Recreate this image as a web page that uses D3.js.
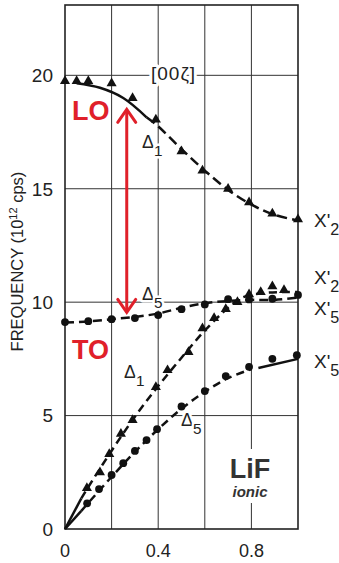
<!DOCTYPE html>
<html>
<head>
<meta charset="utf-8">
<script src="https://cdn.jsdelivr.net/npm/d3@7"></script>
<style>
  html, body { margin: 0; padding: 0; background: #fff; }
  svg { display: block; font-family: "Liberation Sans", Arial, sans-serif; }
  .halo { paint-order: stroke; stroke: #fff; stroke-linejoin: round; }
</style>
</head>
<body>
<div id="chart"></div>
<script>
// reduced wave vector along [00ζ]
const xTicks = [0, 0.4, 0.8];
const yTicks = [0, 5, 10, 15, 20];
const gridX = [0.2, 0.4, 0.6, 0.8];
const gridY = [5, 10, 15, 20];

// measured points (frequency in 10^12 cps)
const loTriangles = [[0, 19.75], [0.05, 19.75], [0.1, 19.75], [0.2, 19.65], [0.29, 19.0], [0.39, 18.05],
  [0.5, 16.65], [0.59, 15.8], [0.7, 15.0], [0.79, 14.4], [0.89, 13.9], [1.0, 13.65]];
const toCircles = [[0, 9.12], [0.1, 9.16], [0.2, 9.25], [0.3, 9.3], [0.4, 9.43], [0.5, 9.69],
  [0.6, 9.9], [0.7, 10.13], [0.79, 10.12], [0.89, 10.15], [1.0, 10.32]];
const laTriangles = [[0.094, 1.8], [0.15, 2.5], [0.19, 3.3], [0.24, 4.2], [0.29, 4.8], [0.39, 6.26],
  [0.44, 7.0], [0.53, 7.8], [0.59, 8.85], [0.64, 9.3], [0.69, 9.7], [0.74, 10.0], [0.79, 10.35],
  [0.84, 10.44], [0.89, 10.7], [0.94, 10.53]];
const lowCircles = [[0.095, 1.13], [0.146, 1.76], [0.2, 2.38], [0.25, 2.9], [0.3, 3.44], [0.35, 3.92],
  [0.395, 4.4], [0.5, 5.4], [0.6, 6.08], [0.69, 6.74], [0.79, 7.15], [0.89, 7.5], [0.995, 7.66]];

// drawn curves
const loSolid = [[0.05, 19.65], [0.15, 19.45], [0.25, 19.0], [0.35, 18.15]];
const loDashed = [[0.35, 18.15], [0.4, 17.75], [0.5, 16.75], [0.6, 15.8], [0.7, 14.95], [0.8, 14.3], [0.9, 13.85], [1.0, 13.6]];
const toDashed = [[0, 9.1], [0.1, 9.15], [0.2, 9.25], [0.3, 9.35], [0.4, 9.5], [0.5, 9.75], [0.6, 9.95], [0.7, 10.05], [0.8, 10.1], [0.9, 10.1], [1.0, 10.2]];
const laSolid = [[0, 0], [0.07, 1.35]];
const laDashed = [[0.07, 1.35], [0.1, 1.85], [0.2, 3.45], [0.3, 4.95], [0.4, 6.3], [0.5, 7.55], [0.6, 8.75], [0.7, 9.75], [0.76, 10.2], [0.85, 10.4], [0.95, 10.45], [1.0, 10.45]];
const lowSolidA = [[0, 0], [0.07, 0.8]];
const lowDashed = [[0.07, 0.8], [0.1, 1.15], [0.2, 2.3], [0.3, 3.4], [0.4, 4.4], [0.5, 5.3], [0.6, 6.05], [0.7, 6.65], [0.8, 7.05]];
const lowSolidB = [[0.83, 7.1], [1.0, 7.5]];

// LO-TO splitting arrow
const arrowX = 0.265;
const arrowFrom = 18.5;
const arrowTo = 9.55;

const width = 339, height = 563;
const m = { left: 65, right: 298, top: 5, bottom: 529 };

const x = d3.scaleLinear().domain([0, 1]).range([m.left, m.right]);
const y = d3.scaleLinear().domain([0, 23.1]).range([m.bottom, m.top]);

const svg = d3.select('#chart').append('svg')
  .attr('width', width).attr('height', height);

// grid
svg.append('g').selectAll('line').data(gridX).enter().append('line')
  .attr('x1', d => x(d)).attr('x2', d => x(d)).attr('y1', m.top).attr('y2', m.bottom)
  .attr('stroke', '#333').attr('stroke-width', 1);
svg.append('g').selectAll('line').data(gridY).enter().append('line')
  .attr('x1', m.left).attr('x2', m.right).attr('y1', d => y(d)).attr('y2', d => y(d))
  .attr('stroke', '#333').attr('stroke-width', 1);

svg.append('rect')
  .attr('x', m.left).attr('y', m.top).attr('width', m.right - m.left).attr('height', m.bottom - m.top)
  .attr('fill', 'none').attr('stroke', '#222').attr('stroke-width', 1.6);

// tick labels
svg.append('g').selectAll('text').data(yTicks).enter().append('text')
  .attr('x', 53).attr('y', d => y(d)).attr('dy', '0.36em')
  .attr('text-anchor', 'end').attr('font-size', 19).attr('fill', '#222')
  .text(d => d);
svg.append('g').selectAll('text').data(xTicks).enter().append('text')
  .attr('x', d => x(d)).attr('y', 557)
  .attr('text-anchor', 'middle').attr('font-size', 18).attr('fill', '#222')
  .text(d => d);

const ylab = svg.append('text')
  .attr('transform', `translate(23,${(165 + 358) / 2}) rotate(-90)`)
  .attr('text-anchor', 'middle').attr('font-size', 16.5).attr('fill', '#222');
ylab.append('tspan').text('FREQUENCY (10');
ylab.append('tspan').attr('font-size', 11).attr('dy', -6).text('12');
ylab.append('tspan').attr('dy', 6).text(' cps)');

// labels that break the grid
function sub(g, px, py, main, s, size) {
  const t = g.append('text').attr('class', 'halo').attr('stroke-width', 5)
    .attr('x', px).attr('y', py).attr('font-size', size).attr('fill', '#222');
  t.append('tspan').text(main);
  t.append('tspan').attr('font-size', size * 0.85).attr('dy', size * 0.42).text(s);
  return t;
}
const lab = svg.append('g');
lab.append('text').attr('class', 'halo').attr('stroke-width', 6)
  .attr('x', 151).attr('y', 80).attr('font-size', 19).attr('letter-spacing', 1)
  .attr('fill', '#222').text('[00ζ]');
sub(lab, 142, 148, 'Δ', '1', 18);
sub(lab, 142, 300, 'Δ', '5', 18);
sub(lab, 124, 378, 'Δ', '1', 18);
sub(lab, 181, 426, 'Δ', '5', 18);
sub(lab, 314, 227, "X'", '2', 19);
sub(lab, 314, 284, "X'", '2', 19);
sub(lab, 314, 315, "X'", '5', 19);
sub(lab, 314, 368, "X'", '5', 19);

// curves
const line = d3.line().x(d => x(d[0])).y(d => y(d[1])).curve(d3.curveCatmullRom);
const curves = [
  [loSolid, null], [loDashed, '10,5'], [toDashed, '9,5'],
  [laSolid, null], [laDashed, '8,5'], [lowSolidA, null], [lowDashed, '8,5'], [lowSolidB, null]
];
svg.append('g').selectAll('path').data(curves).enter().append('path')
  .attr('d', d => line(d[0]))
  .attr('fill', 'none').attr('stroke', '#111').attr('stroke-width', 2.5)
  .attr('stroke-dasharray', d => d[1]);

// markers
const tri = d3.symbol().type(d3.symbolTriangle).size(44);
svg.append('g').selectAll('path').data(loTriangles.concat(laTriangles)).enter().append('path')
  .attr('d', tri).attr('transform', d => `translate(${x(d[0])},${y(d[1])})`).attr('fill', '#111');
svg.append('g').selectAll('circle').data(toCircles.concat(lowCircles)).enter().append('circle')
  .attr('cx', d => x(d[0])).attr('cy', d => y(d[1])).attr('r', 3.9).attr('fill', '#111');

// red annotations
const red = '#e0202a';
const ax = x(arrowX), a1 = y(arrowFrom), a2 = y(arrowTo);
const arrow = svg.append('g').attr('stroke', red).attr('stroke-width', 3).attr('fill', 'none')
  .attr('stroke-linecap', 'round');
arrow.append('line').attr('x1', ax).attr('x2', ax).attr('y1', a1 + 1).attr('y2', a2 - 1);
arrow.append('path').attr('d', `M${ax - 9},${a1 + 13}L${ax},${a1}L${ax + 9},${a1 + 13}`);
arrow.append('path').attr('d', `M${ax - 9},${a2 - 13}L${ax},${a2}L${ax + 9},${a2 - 13}`);

svg.append('text').attr('x', 72).attr('y', 120).attr('font-size', 27).attr('font-weight', 'bold')
  .attr('fill', red).text('LO');
svg.append('text').attr('x', 72).attr('y', 359).attr('font-size', 27).attr('font-weight', 'bold')
  .attr('fill', red).text('TO');

svg.append('rect').attr('x', 227).attr('y', 449).attr('width', 46).attr('height', 54).attr('fill', '#fff');
svg.append('text').attr('x', 250).attr('y', 478).attr('text-anchor', 'middle')
  .attr('font-size', 27).attr('font-weight', 'bold').attr('fill', '#333').text('LiF');
svg.append('text').attr('x', 250).attr('y', 497).attr('text-anchor', 'middle')
  .attr('font-size', 15).attr('font-style', 'italic').attr('font-weight', 'bold').attr('fill', '#333').text('ionic');
</script>
</body>
</html>
